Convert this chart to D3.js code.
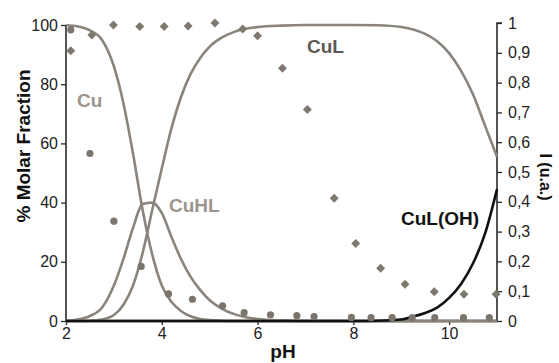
<!DOCTYPE html>
<html>
<head>
<meta charset="utf-8">
<script src="https://cdn.jsdelivr.net/npm/d3@7"></script>
<style>
  body { margin: 0; background: #fff; }
  text { font-family: "Liberation Sans", Arial, sans-serif; }
</style>
</head>
<body>
<div id="chart"></div>
<script>
// species distribution (% molar fraction)
var pH    = [2, 2.25, 2.5, 2.75, 3, 3.2, 3.4, 3.6, 3.8, 4, 4.2, 4.4, 4.6, 4.8, 5, 5.25, 5.5, 5.75, 6, 6.5, 7, 7.5, 8, 8.5, 9, 9.25, 9.5, 9.75, 10, 10.25, 10.5, 10.75, 11];
var cu    = [99.9, 99.5, 98.2, 95, 86, 73.5, 56.5, 37.5, 22.5, 12, 6.5, 3.4, 1.6, 0.7, 0.3, 0.1, 0, 0, 0, 0, 0, 0, 0, 0, 0, 0, 0, 0, 0, 0, 0, 0, 0];
var cuhl  = [0.1, 0.5, 1.7, 4.5, 12, 21, 31.5, 39.5, 40, 36.5, 28.5, 21, 15, 10.5, 7, 4.2, 2.4, 1.3, 0.7, 0.2, 0, 0, 0, 0, 0, 0, 0, 0, 0, 0, 0, 0, 0];
var cul   = [0, 0, 0.1, 0.5, 2, 5.5, 12, 23, 37.5, 51.5, 65, 75.6, 83.4, 88.8, 92.7, 95.7, 97.6, 98.7, 99.3, 99.8, 100, 100, 100, 99.9, 99.3, 98.5, 97, 94.5, 90.5, 84.5, 76.5, 66, 55.5];
var culoh = [0, 0, 0, 0, 0, 0, 0, 0, 0, 0, 0, 0, 0, 0, 0, 0, 0, 0, 0, 0, 0, 0, 0, 0.1, 0.5, 1.5, 2.7, 4.5, 7.8, 12.5, 19.5, 29.5, 44.5];

// intensity points (right axis)
var diamondPH = [2.1, 2.54, 2.99, 3.54, 4.05, 4.55, 5.11, 5.69, 6.0, 6.52, 7.04, 7.6, 8.05, 8.57, 9.08, 9.69, 10.31, 10.98];
var diamondI  = [0.907, 0.96, 0.993, 0.988, 0.988, 0.99, 1.0, 0.98, 0.957, 0.848, 0.71, 0.412, 0.26, 0.177, 0.123, 0.098, 0.09, 0.09];
var circlePH  = [2.1, 2.5, 3.0, 3.57, 4.14, 4.64, 5.27, 5.72, 6.27, 6.82, 7.18, 7.96, 8.37, 8.81, 9.23, 9.7, 10.3, 10.84];
var circleI   = [0.977, 0.562, 0.335, 0.183, 0.091, 0.073, 0.051, 0.028, 0.021, 0.018, 0.015, 0.012, 0.011, 0.011, 0.011, 0.011, 0.011, 0.011];

var xTicks = [2, 4, 6, 8, 10];
var leftTicks = [0, 20, 40, 60, 80, 100];
var rightTicks = [0, 0.1, 0.2, 0.3, 0.4, 0.5, 0.6, 0.7, 0.8, 0.9, 1];

var width = 559, height = 363;
var margin = {top: 24, right: 62, bottom: 42, left: 66};

var svg = d3.select('#chart').append('svg')
    .attr('width', width)
    .attr('height', height);

var x = d3.scaleLinear().domain([2, 11]).range([margin.left, width - margin.right]);
var yL = d3.scaleLinear().domain([0, 100]).range([height - margin.bottom, margin.top + 1]);
var yR = d3.scaleLinear().domain([0, 1]).range([height - margin.bottom, margin.top - 1]);

var gray = '#8a847d';

// axes
var xAxis = svg.append('g')
    .attr('transform', `translate(0,${height - margin.bottom})`)
    .call(d3.axisBottom(x).tickValues(xTicks).tickSize(4).tickPadding(3).tickFormat(d3.format('d')));

var leftAxis = svg.append('g')
    .attr('transform', `translate(${margin.left},0)`)
    .call(d3.axisLeft(yL).tickValues(leftTicks).tickSize(5).tickPadding(3));

var rightAxis = svg.append('g')
    .attr('transform', `translate(${width - margin.right},0)`)
    .call(d3.axisRight(yR).tickValues(rightTicks).tickSize(5).tickPadding(6)
      .tickFormat(function(d) { return d === 0 || d === 1 ? String(d) : d3.format('.1f')(d).replace('.', ','); }));

[xAxis, leftAxis, rightAxis].forEach(function(g) {
  g.select('.domain').attr('stroke', '#2a2a2a').attr('stroke-width', 1.6);
  g.selectAll('.tick line').attr('stroke', '#2a2a2a').attr('stroke-width', 1.3);
  g.selectAll('.tick text').attr('font-size', 16).attr('fill', '#222')
    .attr('font-family', '"Liberation Sans", Arial, sans-serif');
});
xAxis.select('.domain').attr('stroke-width', 2.4).attr('d', `M${margin.left},0H${width - margin.right}`);
leftAxis.select('.domain').attr('d', `M0,${yL(100)}V${yL(0)}`);
rightAxis.select('.domain').attr('d', `M5,${yR(1)}H0V${yR(0)}`);

// curves
var line = function(vals) {
  return d3.line()
    .x(function(d, i) { return x(pH[i]); })
    .y(function(d) { return yL(d); })
    .curve(d3.curveMonotoneX)(vals);
};

[cul, cuhl, cu].forEach(function(s) {
  svg.append('path').attr('d', line(s))
    .attr('fill', 'none').attr('stroke', gray).attr('stroke-width', 2.6);
});
svg.append('path').attr('d', line(culoh))
  .attr('fill', 'none').attr('stroke', '#111').attr('stroke-width', 2.6);

// markers
svg.selectAll('.circ').data(circlePH).enter().append('circle')
  .attr('class', 'circ')
  .attr('cx', function(d) { return x(d); })
  .attr('cy', function(d, i) { return yR(circleI[i]); })
  .attr('r', 3.6)
  .attr('fill', '#7b756e');

svg.selectAll('.diam').data(diamondPH).enter().append('path')
  .attr('class', 'diam')
  .attr('transform', function(d, i) { return `translate(${x(d)},${yR(diamondI[i])}) rotate(45)`; })
  .attr('d', d3.symbol().type(d3.symbolSquare).size(40))
  .attr('fill', '#7f786f');

// species labels
function label(txt, px, py, color) {
  svg.append('text').attr('x', px).attr('y', py).text(txt)
    .attr('font-size', 19).attr('font-weight', 'bold').attr('fill', color);
}
label('Cu', 77, 107, '#9b958e');
label('CuHL', 169, 212, '#9b958e');
label('CuL', 307, 53, '#5e5953');
label('CuL(OH)', 401, 225, '#111');

// axis titles
svg.append('text')
  .attr('transform', 'translate(30,146) rotate(-90)')
  .attr('text-anchor', 'middle')
  .attr('font-size', 19).attr('font-weight', 'bold').attr('fill', '#111')
  .text('% Molar Fraction');

svg.append('text')
  .attr('transform', 'translate(540,177) rotate(90)')
  .attr('text-anchor', 'middle')
  .attr('font-size', 16).attr('font-weight', 'bold').attr('fill', '#111')
  .text('I (u.a.)');

svg.append('text')
  .attr('x', 283).attr('y', 358)
  .attr('text-anchor', 'middle')
  .attr('font-size', 19).attr('font-weight', 'bold').attr('fill', '#111')
  .text('pH');
</script>
</body>
</html>
